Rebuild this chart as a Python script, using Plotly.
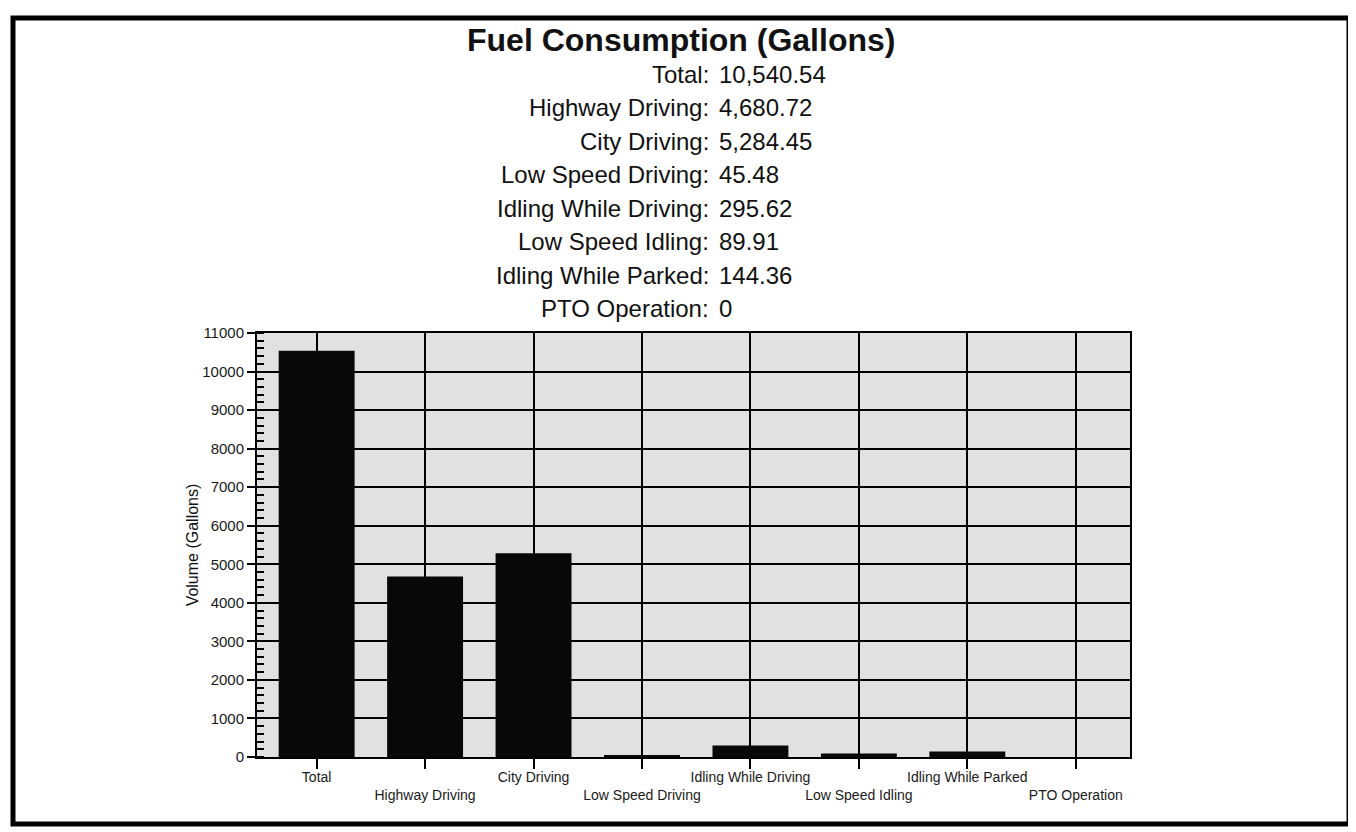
import plotly.graph_objects as go

categories = ["Total", "Highway Driving", "City Driving", "Low Speed Driving",
              "Idling While Driving", "Low Speed Idling", "Idling While Parked", "PTO Operation"]
values = [10540.54, 4680.72, 5284.45, 45.48, 295.62, 89.91, 144.36, 0]
y_ticks = list(range(0, 11001, 1000))

OFF = 8  # page body margin
W, H = 1356 - OFF, 832 - OFF
L, R, T, B = 257 - OFF, 1130 - OFF, 333 - OFF, 757 - OFF


def px(x):
    return (x - OFF - L) / (R - L)


def py(y):
    return (B - (y - OFF)) / (B - T)


def fmt(v):
    return f"{v:,.2f}" if v else "0"


# staggered tick labels
ticktext = [c if i % 2 == 0 else "<br>" + c for i, c in enumerate(categories)]

fig = go.Figure()
fig.add_trace(go.Bar(
    x=categories, y=values, width=0.7,
    marker=dict(color="#080808", line=dict(width=0)),
))

FONT = "Liberation Sans, Arial, Helvetica, sans-serif"

annotations = [dict(
    text="<b>Fuel Consumption (Gallons)</b>", x=px(681), y=py(40), xref="paper", yref="paper",
    xanchor="center", yanchor="middle", showarrow=False, font=dict(size=32, color="#111", family=FONT))]
for i, (c, v) in enumerate(zip(categories, values)):
    yy = py(74 + 33.5 * i)
    annotations.append(dict(text=c + ":", x=px(711), y=yy, xref="paper", yref="paper",
                            xanchor="right", yanchor="middle", showarrow=False,
                            font=dict(size=24, color="#111", family=FONT)))
    annotations.append(dict(text=fmt(v), x=px(717), y=yy, xref="paper", yref="paper",
                            xanchor="left", yanchor="middle", showarrow=False,
                            font=dict(size=24, color="#111", family=FONT)))

shapes = [dict(type="rect", xref="paper", yref="paper",
               x0=px(13), x1=px(1349), y0=py(18), y1=py(824),
               line=dict(color="black", width=5), fillcolor="rgba(0,0,0,0)", layer="above")]

fig.update_layout(
    width=W, height=H,
    margin=dict(l=L, r=W - R, t=T, b=H - B, pad=0),
    paper_bgcolor="white", plot_bgcolor="#e1e1e1",
    showlegend=False, bargap=0.3,
    annotations=annotations, shapes=shapes,
    font=dict(family=FONT, color="#111"),
    xaxis=dict(
        type="category", range=[-0.55, 7.5],
        tickvals=categories, ticktext=ticktext,
        showgrid=True, gridcolor="black", gridwidth=2,
        showline=True, linecolor="black", linewidth=2, mirror=True,
        ticks="outside", ticklen=10, tickwidth=2, tickcolor="black",
        tickfont=dict(size=14, color="#1a1a1a", family=FONT), tickangle=0,
        ticklabelstandoff=-4,
    ),
    yaxis=dict(
        range=[0, 11000], tickvals=y_ticks, ticktext=[str(t) for t in y_ticks],
        showgrid=True, gridcolor="black", gridwidth=2, zeroline=False,
        showline=True, linecolor="black", linewidth=2, mirror=True,
        ticks="outside", ticklen=8, tickwidth=2, tickcolor="black",
        tickfont=dict(size=15, color="#1a1a1a", family=FONT),
        minor=dict(dtick=200, ticks="inside", ticklen=7, tickwidth=2, tickcolor="black", showgrid=False),
        title=dict(text="Volume (Gallons)", font=dict(size=16, color="#111", family=FONT), standoff=0),
    ),
)

fig.write_html("out.html")
